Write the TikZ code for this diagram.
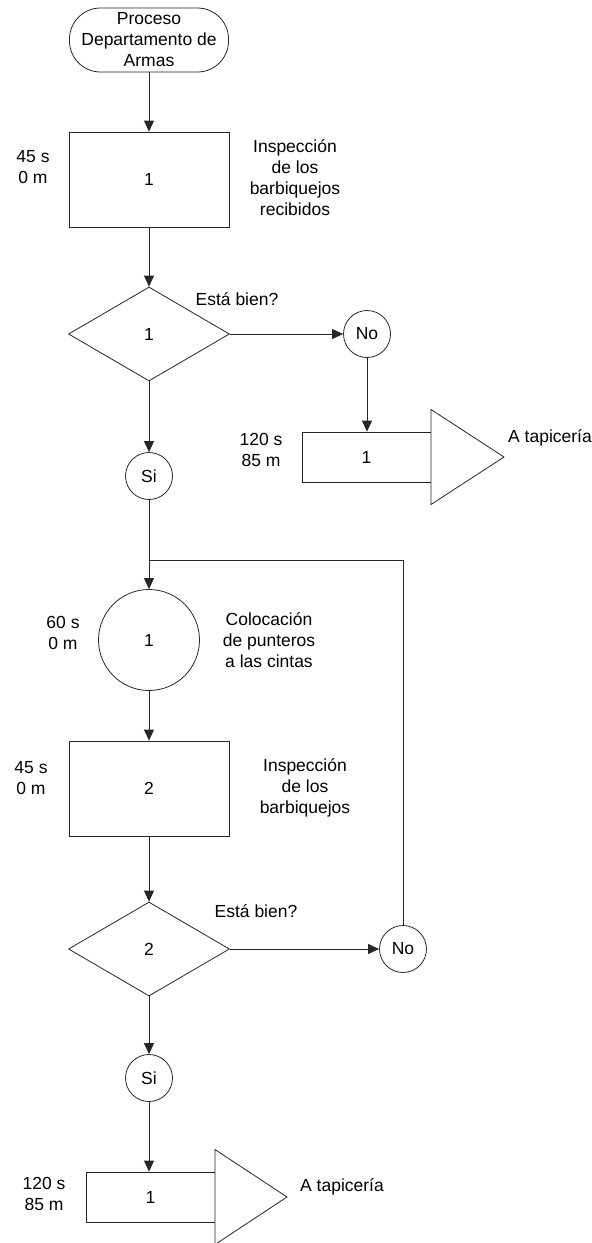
\documentclass[tikz,border=0pt]{standalone}
\usepackage{fontspec}
\setmainfont{Liberation Sans}
\usetikzlibrary{shapes.geometric,arrows.meta}
\begin{document}
\begin{tikzpicture}[x=1pt,y=-1pt,
  every node/.style={font=\fontsize{17.5}{21}\selectfont, align=center, text=black},
  ln/.style={draw=black!85, line width=0.8pt},
  arr/.style={ln, -{Triangle[width=10pt,length=11pt]}},
  term/.style={ln, rounded corners=31pt, minimum width=159pt, minimum height=64pt, inner sep=0pt},
  insp/.style={ln, rectangle, minimum width=160pt, minimum height=95pt, inner sep=0pt},
  decide/.style={ln, diamond, minimum width=161pt, minimum height=94pt, inner sep=0pt},
  conn/.style={ln, circle, minimum size=47pt, inner sep=0pt},
  oper/.style={ln, circle, minimum size=101pt, inner sep=0pt},
  trans/.style={ln, rectangle, minimum width=129pt, minimum height=50pt, inner sep=0pt},
  lbl/.style={inner sep=0pt}
]
\useasboundingbox (0,0) rectangle (592,1243);

% start
\node[term] (start) at (149,40) {Proceso\\Departamento de\\Armas};

% first inspection
\node[insp] (insp1) at (149,179.5) {1};
\node[lbl] (t1) at (33,167) {45 s\\0 m};
\node[lbl] (d1) at (295,178) {Inspección\\de los\\barbiquejos\\recibidos};

% first decision
\node[decide] (dec1) at (149,334) {1};
\node[lbl] (q1) at (237,299) {Está bien?};
\node[conn] (no1) at (367,334) {No};
\node[conn] (si1) at (149,476) {Si};

% first transport
\node[trans] (tr1) at (366.5,457) {1};
\coordinate (a1) at (431,409.5);
\coordinate (b1) at (504,457);
\coordinate (c1) at (431,504.5);
\filldraw[ln, fill=white] (a1) -- (b1) -- (c1) -- cycle;
\node[lbl] (t3) at (261,450) {120 s\\85 m};
\node[lbl, anchor=west] (d3) at (508,438) {A tapicería};

% operation
\coordinate (join) at (149,560);
\node[oper] (op1) at (149,640) {1};
\node[lbl] (t2) at (63,633) {60 s\\0 m};
\node[lbl] (d2) at (269,640) {Colocación\\de punteros\\a las cintas};

% second inspection
\node[insp] (insp2) at (149,788.5) {2};
\node[lbl] (t4) at (31,778) {45 s\\0 m};
\node[lbl] (d4) at (305,788) {Inspección\\de los\\barbiquejos};

% second decision
\node[decide] (dec2) at (149,949) {2};
\node[lbl] (q2) at (256,911) {Está bien?};
\node[conn] (no2) at (403,949) {No};
\node[conn] (si2) at (149,1078) {Si};

% second transport
\node[trans] (tr2) at (150.5,1197) {1};
\coordinate (a2) at (215,1149.5);
\coordinate (b2) at (287,1197);
\coordinate (c2) at (215,1244.5);
\filldraw[ln, fill=white] (a2) -- (b2) -- (c2) -- cycle;
\node[lbl] (t5) at (44,1194) {120 s\\85 m};
\node[lbl, anchor=west] (d5) at (300,1187) {A tapicería};

% connectors
\draw[arr] (start) -- (insp1);
\draw[arr] (insp1) -- (dec1);
\draw[arr] (dec1.east) -- (no1.west);
\draw[arr] (no1.south) -- (no1.south |- tr1.north);
\draw[arr] (dec1.south) -- (si1.north);
\draw[arr] (si1.south) -- (op1.north);
\draw[ln] (no2.north) |- (join);
\draw[arr] (op1.south) -- (insp2.north);
\draw[arr] (insp2) -- (dec2);
\draw[arr] (dec2.east) -- (no2.west);
\draw[arr] (dec2.south) -- (si2.north);
\draw[arr] (si2.south) -- (si2.south |- tr2.north);
\end{tikzpicture}
\end{document}
